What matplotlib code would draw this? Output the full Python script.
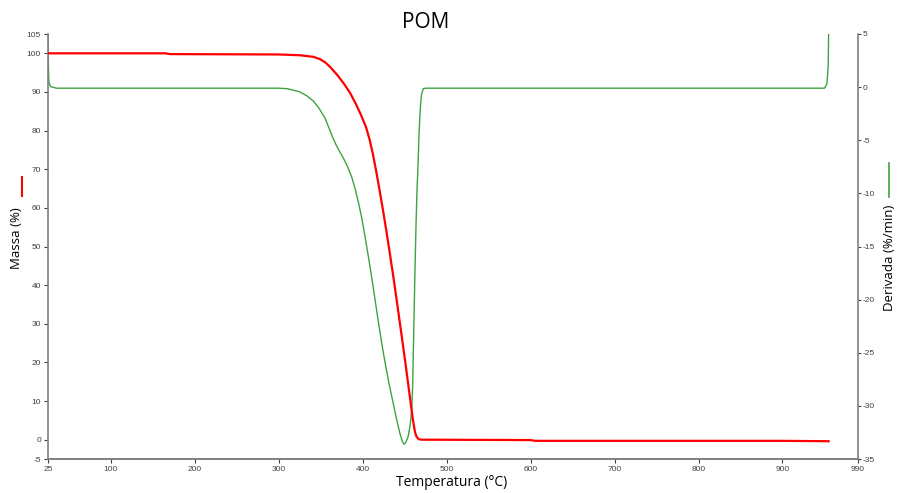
#TGA / DTG plot for POM
import matplotlib.pyplot as plt
import numpy as np

plt.rcParams['axes.unicode_minus'] = False

# Mass loss curve (temperature in C, mass in %)
massT = [25, 165, 170, 300, 325, 341, 349, 355, 361, 370, 378, 385, 392, 398, 404, 408, 412,
         416, 420, 424, 428, 432, 436.4, 441, 446.4, 451, 456.3, 459.5, 462.2, 464, 465.8,
         468, 470, 600, 605, 900, 955]
massV = [100.0, 100.0, 99.8, 99.7, 99.5, 99.1, 98.5, 97.7, 96.5, 94.3, 92.0, 89.7, 86.8, 84.0, 80.8, 77.8, 74.0,
         69.5, 64.6, 59.5, 54.2, 48.6, 42.2, 35.2, 26.8, 19.5, 10.8, 5.5, 2.0, 0.8, 0.3,
         0.05, 0.0, -0.1, -0.3, -0.3, -0.4]

# Derivative curve (%/min)
derT = [25, 25.5, 26, 28, 35, 300, 310, 318, 325, 333, 341, 348, 355, 360, 364, 368, 372, 377,
        382, 387, 391, 395, 399, 403, 407, 411, 415, 419, 423, 427, 431, 436.4, 441, 444.3,
        447, 449, 451, 454, 456.5, 458.3, 459.5, 460.2, 461, 462, 463.4, 464.5, 466, 467, 468,
        469, 470, 472, 475, 950, 953, 954.5, 955]
derV = [5.0, 2.0, 0.5, 0.05, -0.1, -0.1, -0.15, -0.3, -0.45, -0.8, -1.3, -2.0, -2.9, -3.9, -4.7, -5.4, -6.0, -6.7,
        -7.5, -8.5, -9.6, -10.9, -12.4, -14.2, -16.1, -18.1, -20.2, -22.3, -24.3, -26.1, -27.8, -29.8, -31.5, -32.6,
        -33.3, -33.6, -33.5, -32.9, -31.8, -30.4, -28.0, -25.0, -22.0, -18.0, -13.1, -10.0, -7.0, -4.5, -2.8,
        -1.5, -0.7, -0.15, -0.1, -0.1, 0.3, 2.0, 5.0]

xticks = [25, 100, 200, 300, 400, 500, 600, 700, 800, 900, 990]
massTicks = [-5, 0, 10, 20, 30, 40, 50, 60, 70, 80, 90, 100, 105]
derTicks = [5, 0, -5, -10, -15, -20, -25, -30, -35]

axisColor = '#7f7f7f'
tickFont = 'Liberation Sans'
labelFont = 'Open Sans'

fig = plt.figure(figsize=(8.97, 4.93), dpi=100)
ax = fig.add_axes([48/897, 1 - 459/493, (858-48)/897, (459-34)/493])
ax2 = ax.twinx()

ax.plot(massT, massV, color='#ff0000', lw=1.6, zorder=3)
ax2.plot(derT, derV, color='#3ea33e', lw=1.0, zorder=2)
ax.set_zorder(ax2.get_zorder() + 1)
ax.patch.set_visible(False)

ax.set_xlim(25, 990)
ax.set_ylim(-5, 105)
ax2.set_ylim(-35, 5)
ax.set_xticks(xticks)
ax.set_yticks(massTicks)
ax2.set_yticks(derTicks)

for a in (ax, ax2):
    a.spines['top'].set_visible(False)
    for s in ('left', 'right', 'bottom'):
        a.spines[s].set_color(axisColor)
        a.spines[s].set_linewidth(1.2)
    a.tick_params(colors='#404040', labelsize=6, length=3, width=0.8, direction='out', pad=2)
    for lbl in a.get_xticklabels() + a.get_yticklabels():
        lbl.set_fontfamily(tickFont)
ax2.spines['left'].set_visible(False)
ax.spines['right'].set_visible(False)
ax2.tick_params(axis='y', length=2, pad=1.5)

fig.text(0.474, 0.955, 'POM', ha='center', va='center', fontsize=15, family=labelFont)
fig.text(452/897, 1 - 483/493, 'Temperatura (°C)', ha='center', va='center', fontsize=10, family=labelFont)
fig.text(17/897, 1 - 238/493, 'Massa (%)', ha='center', va='center', rotation=90, fontsize=9.5, family=labelFont)
fig.text(889/897, 1 - 258/493, 'Derivada (%/min)', ha='center', va='center', rotation=90, fontsize=9.5, family=labelFont)

# small legend bars next to the axis titles
fig.add_artist(plt.Line2D([22/897, 22/897], [1 - 196/493, 1 - 177/493], color='#ff0000', lw=1.5))
fig.add_artist(plt.Line2D([889/897, 889/897], [1 - 197/493, 1 - 163/493], color='#3ea33e', lw=1.2))

fig.savefig('out.png', dpi=100)
